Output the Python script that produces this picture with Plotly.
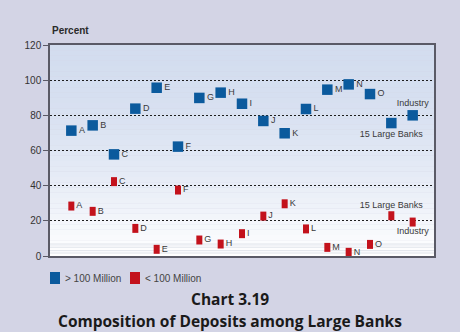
import plotly.graph_objects as go

categories = ["A", "B", "C", "D", "E", "F", "G", "H", "I", "J", "K", "L", "M", "N", "O",
              "15 Large Banks", "Industry"]
over_100m = [71.3, 74.3, 57.8, 83.8, 95.7, 62.2, 89.9, 92.9, 86.6, 76.8, 69.8, 83.6,
             94.6, 97.6, 92.1, 75.6, 80.0]
under_100m = [28.4, 25.4, 42.3, 15.7, 3.8, 37.5, 9.1, 6.8, 12.7, 22.7, 29.7, 15.4,
              4.9, 2.1, 6.6, 22.9, 19.3]
y_ticks = [0, 20, 40, 60, 80, 100, 120]
series_names = ["> 100 Million", "< 100 Million"]
chart_number = "Chart 3.19"
chart_title = "Composition of Deposits among Large Banks"

BLUE = "#0b5a9d"
RED = "#c3121c"
W, H = 460, 332
ML, MR, MT, MB = 50, 26, 45, 76

xs = list(range(len(categories)))
blue_pos = ["middle right"] * 15 + ["bottom center", "top center"]
red_pos = ["middle right"] * 15 + ["top center", "bottom center"]

fig = go.Figure()
fig.add_trace(go.Scatter(
    x=xs, y=over_100m, mode="markers+text", text=categories,
    textposition=blue_pos, name=series_names[0],
    marker=dict(symbol="square", size=10.5, color=BLUE, line=dict(width=0)),
    textfont=dict(family="Liberation Sans, Arial", size=9, color="#3a3a3a"),
    cliponaxis=False, showlegend=False, hoverinfo="skip"))
fig.add_trace(go.Scatter(
    x=xs, y=under_100m, mode="markers+text", text=categories,
    textposition=red_pos, name=series_names[1],
    marker=dict(symbol="line-ns", size=6.4, color=RED, line=dict(width=6, color=RED)),
    textfont=dict(family="Liberation Sans, Arial", size=9, color="#3a3a3a"),
    cliponaxis=False, showlegend=False, hoverinfo="skip"))

shapes = []
# gradient plot background
top = (0xd3, 0xdd, 0xef)
bot = (0xff, 0xff, 0xff)
n = 40
for i in range(n):
    t = i / (n - 1)
    t2 = t ** 1.8
    c = tuple(int(round(top[k] + (bot[k] - top[k]) * t2)) for k in range(3))
    y1 = 1 - i / n
    y0 = 1 - (i + 1) / n
    shapes.append(dict(type="rect", xref="paper", yref="paper", x0=0, x1=1, y0=y0, y1=y1,
                       fillcolor="rgb(%d,%d,%d)" % c, line=dict(width=0), layer="below"))
# faint decorative lines near the bottom
for v in [1.7, 3.0, 5.0, 6.8]:
    shapes.append(dict(type="line", xref="paper", yref="y", x0=0, x1=1, y0=v, y1=v,
                       line=dict(color="#dfe3ea", width=1), layer="below"))

# manual legend
lx = [(50, 60), (130, 140)]
for (a, b), col in zip(lx, [BLUE, RED]):
    shapes.append(dict(type="rect", xref="paper", yref="paper",
                       x0=(a - ML) / (W - ML - MR), x1=(b - ML) / (W - ML - MR),
                       y0=(256 - 284) / 211, y1=(256 - 272) / 211,
                       fillcolor=col, line=dict(width=0)))

ann = []
ann.append(dict(text="<b>Percent</b>", xref="paper", yref="paper", x=0, y=(256 - 30) / 211,
                xanchor="left", yanchor="middle", showarrow=False,
                font=dict(family="Liberation Sans, Arial", size=10, color="#2a2a2a")))
for name, x0 in zip(series_names, [63, 143]):
    ann.append(dict(text=name, xref="paper", yref="paper", x=(x0 - ML) / (W - ML - MR),
                    y=(256 - 278) / 211, xanchor="left", yanchor="middle", showarrow=False,
                    font=dict(family="Liberation Sans, Arial", size=10, color="#444444")))
ann.append(dict(text="<b>" + chart_number + "</b>", xref="paper", yref="paper",
                x=(230 - ML) / (W - ML - MR), y=(256 - 299) / 211, xanchor="center",
                yanchor="middle", showarrow=False,
                font=dict(family="Open Sans", size=15.5, color="#1a1a1a")))
ann.append(dict(text="<b>" + chart_title + "</b>", xref="paper", yref="paper",
                x=(230 - ML) / (W - ML - MR), y=(256 - 321) / 211, xanchor="center",
                yanchor="middle", showarrow=False,
                font=dict(family="Open Sans", size=15.5, color="#1a1a1a")))

fig.update_layout(
    width=W, height=H,
    margin=dict(l=ML, r=MR, t=MT, b=MB),
    paper_bgcolor="#d3d4e5", plot_bgcolor="rgba(0,0,0,0)",
    shapes=shapes, annotations=ann, showlegend=False,
    xaxis=dict(range=[-1, 17], showgrid=False, zeroline=False, showticklabels=False,
               ticks="", showline=True, linecolor="#5a5a66", linewidth=1.5, mirror=True,
               fixedrange=True),
    yaxis=dict(range=[0, 120], tickvals=y_ticks, showgrid=True, gridcolor="#1e1e1e",
               griddash="2px,2px", gridwidth=1, zeroline=False, ticks="outside", ticklen=5,
               tickcolor="#5a5a66", showline=True, linecolor="#5a5a66", linewidth=1.5,
               mirror=True, tickfont=dict(family="Liberation Sans, Arial", size=10,
                                          color="#333333"), fixedrange=True),
)
fig.write_html("out.html")
